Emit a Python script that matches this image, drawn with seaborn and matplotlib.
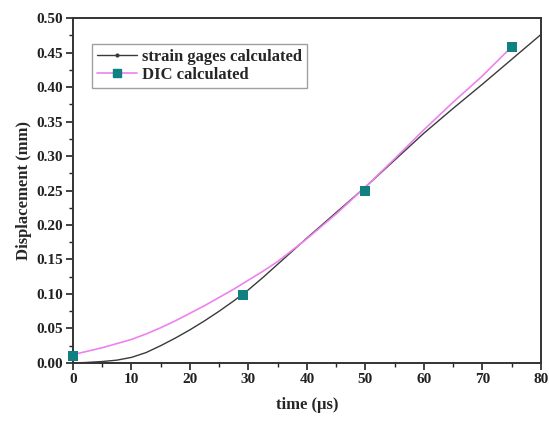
import matplotlib
matplotlib.use("Agg")
import matplotlib.pyplot as plt
import seaborn as sns
import pandas as pd
from matplotlib.lines import Line2D
from matplotlib.ticker import MultipleLocator

sns.set_theme(style="white")
plt.rcParams['font.family'] = ['Liberation Serif', 'DejaVu Serif']
plt.rcParams['font.weight'] = 'bold'

# strain gages calculated curve
sg_time = [0, 2, 5, 7.5, 10, 12.5, 15, 17.5, 20, 22.5, 25, 27.5, 30, 32.5, 35, 40, 45, 50,
           55, 60, 65, 70, 75, 80]
sg_disp = [0.0, 0.0005, 0.002, 0.004, 0.008, 0.015, 0.025, 0.036, 0.048, 0.061, 0.075, 0.090,
           0.106, 0.124, 0.143, 0.181, 0.218, 0.255, 0.294, 0.333, 0.369, 0.404, 0.440, 0.476]

# DIC calculated fitted curve
dic_curve_time = [0, 2.5, 5, 7.5, 10, 12.5, 15, 17.5, 20, 22.5, 25, 27.5, 30, 32.5, 35, 40,
                  45, 50, 55, 60, 65, 70, 74.5]
dic_curve_disp = [0.012, 0.017, 0.022, 0.028, 0.034, 0.042, 0.051, 0.061, 0.072, 0.083, 0.095,
                  0.107, 0.120, 0.133, 0.147, 0.180, 0.216, 0.255, 0.296, 0.338, 0.378, 0.416,
                  0.454]

# DIC measured points
dic_time = [0, 29, 50, 75]
dic_disp = [0.010, 0.099, 0.249, 0.458]

sg_df = pd.DataFrame({"time": sg_time, "disp": sg_disp})
dc_df = pd.DataFrame({"time": dic_curve_time, "disp": dic_curve_disp})
dp_df = pd.DataFrame({"time": dic_time, "disp": dic_disp})

fig = plt.figure(figsize=(5.49, 4.21), dpi=100)
ax = fig.add_axes([0.133, 0.138, 0.852, 0.819])

black = "#3a3a3a"
pink = "#ee82ee"
teal = "#118080"

sns.lineplot(data=sg_df, x="time", y="disp", ax=ax, color=black, lw=1.0, legend=False)
sns.lineplot(data=dc_df, x="time", y="disp", ax=ax, color=pink, lw=1.2, legend=False)
sns.scatterplot(data=dp_df, x="time", y="disp", ax=ax, color=teal, marker="s", s=45,
                edgecolor=teal, linewidth=0, legend=False, zorder=5, clip_on=False)

ax.set_xlim(0, 80)
ax.set_ylim(0, 0.5)
ax.xaxis.set_major_locator(MultipleLocator(10))
ax.xaxis.set_minor_locator(MultipleLocator(5))
ax.yaxis.set_major_locator(MultipleLocator(0.05))
ax.yaxis.set_minor_locator(MultipleLocator(0.025))
ax.yaxis.set_major_formatter(matplotlib.ticker.FormatStrFormatter('%.2f'))

ax.tick_params(axis='both', which='major', direction='out', length=5, width=1.2,
               labelsize=11, colors='#222222', left=True, bottom=True, top=False, right=False, pad=2)
ax.tick_params(axis='both', which='minor', direction='out', length=3, width=1.0,
               left=True, bottom=True, top=False, right=False, colors='#222222')
for lab in ax.get_xticklabels() + ax.get_yticklabels():
    lab.set_fontweight('bold')

for sp in ax.spines.values():
    sp.set_color('#333333')
    sp.set_linewidth(1.4)

ax.set_xlabel("time (μs)", fontsize=12, fontweight='bold', labelpad=8)
ax.set_ylabel("Displacement (mm)", fontsize=12, fontweight='bold', labelpad=3)

handles = [
    Line2D([], [], color=black, lw=1.0, marker='o', markersize=2),
    Line2D([], [], color=pink, lw=1.2, marker='s', markersize=6, markerfacecolor=teal,
           markeredgecolor=teal),
]
leg = ax.legend(handles, ["strain gages calculated", "DIC calculated"], loc='upper left',
                bbox_to_anchor=(0.022, 0.95), frameon=True, fancybox=False,
                prop={'family': 'Liberation Serif', 'weight': 'bold', 'size': 12},
                handlelength=2.4, borderpad=0.3, labelspacing=0.15, handletextpad=0.3)
leg.get_frame().set_edgecolor('#888888')
leg.get_frame().set_linewidth(1.0)

fig.savefig("out.png", dpi=100, facecolor='white')
